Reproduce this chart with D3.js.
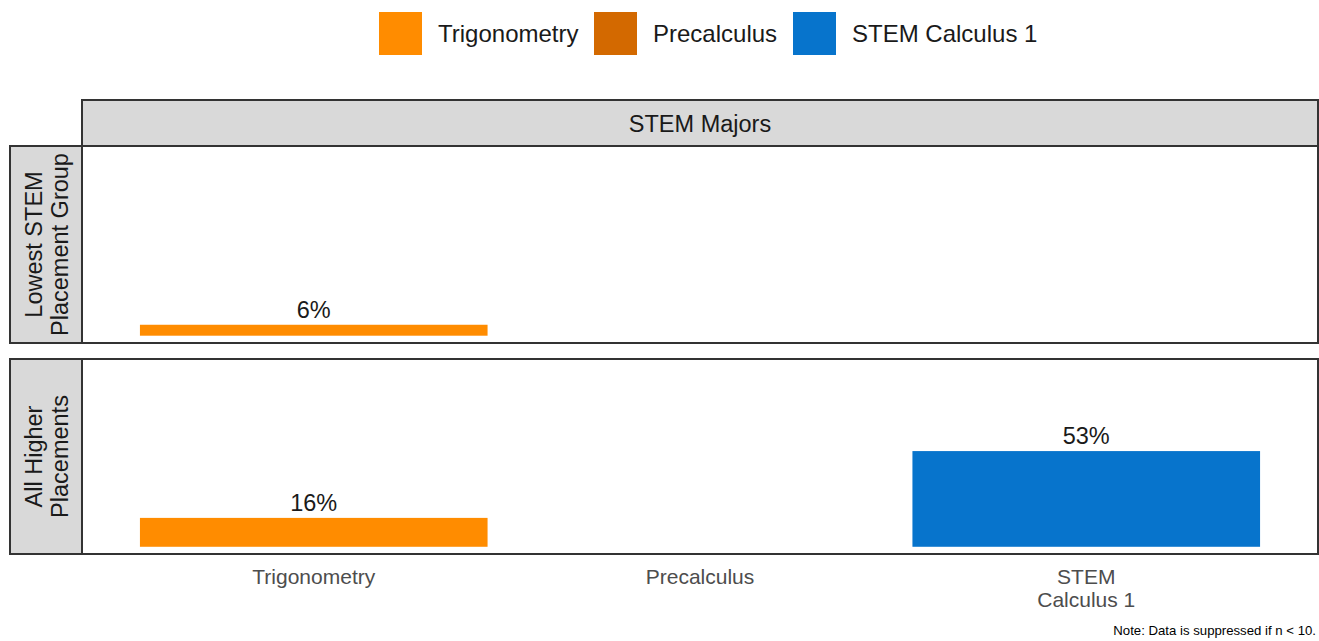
<!DOCTYPE html>
<html>
  <head>
    <meta charset="utf-8" />
    <script src="https://d3js.org/d3.v7.min.js"></script>
    <title>STEM Majors placement</title>
    <style>
      body { margin: 0; background: #fff; }
      text { font-family: "Liberation Sans", Arial, sans-serif; }
    </style>
  </head>
  <body>
    <svg id="chart" width="1319" height="641"></svg>
    <script>
      // data
      var courses = ["Trigonometry", "Precalculus", "STEM Calculus 1"];
      var courseLabels = [["Trigonometry"], ["Precalculus"], ["STEM", "Calculus 1"]];
      var courseColors = ["#ff8c00", "#d36900", "#0774cc"];
      var groups = ["Lowest STEM Placement Group", "All Higher Placements"];
      var groupLabels = [["Lowest STEM", "Placement Group"], ["All Higher", "Placements"]];
      var lowestValues = [6, null, null];
      var higherValues = [16, null, 53];
      var facetTitle = "STEM Majors";
      var note = "Note: Data is suppressed if n < 10.";

      var svg = d3.select("#chart");
      var panelLeft = 82, panelRight = 1318;
      var panels = [{top: 146, bottom: 343, values: lowestValues},
                    {top: 359, bottom: 554, values: higherValues}];

      // discrete x: positions 1..3 with 0.6 expansion each side
      var x = d3.scaleLinear().domain([0.4, 3.6]).range([panelLeft, panelRight]);
      var barW = x(1.45) - x(0.55);

      // legend
      var legendX = [379, 594, 793];
      var legend = svg.selectAll(".legend").data(courses).enter().append("g")
        .attr("transform", function(d, i) { return "translate(" + legendX[i] + ",12)"; });
      legend.append("rect").attr("width", 43).attr("height", 43)
        .attr("fill", function(d, i) { return courseColors[i]; });
      legend.append("text").attr("x", 59).attr("y", 22).attr("dy", "0.35em")
        .attr("font-size", 24).attr("fill", "#1a1a1a").text(function(d) { return d; });

      // top strip
      svg.append("rect").attr("x", panelLeft).attr("y", 100)
        .attr("width", panelRight - panelLeft).attr("height", 46)
        .attr("fill", "#d9d9d9").attr("stroke", "#333").attr("stroke-width", 2);
      svg.append("text").attr("x", (panelLeft + panelRight) / 2).attr("y", 124)
        .attr("dy", "0.35em").attr("text-anchor", "middle").attr("font-size", 23.5)
        .attr("fill", "#1a1a1a").text(facetTitle);

      panels.forEach(function(p, pi) {
        var y = d3.scaleLinear().domain([-4, 104]).range([p.bottom, p.top]);

        svg.append("rect").attr("x", panelLeft).attr("y", p.top)
          .attr("width", panelRight - panelLeft).attr("height", p.bottom - p.top)
          .attr("fill", "#fff");

        var data = courses.map(function(c, i) { return {i: i, v: p.values[i]}; })
          .filter(function(d) { return d.v != null; });

        svg.selectAll(".bar" + pi).data(data).enter().append("rect")
          .attr("x", function(d) { return x(d.i + 1) - barW / 2; })
          .attr("y", function(d) { return y(d.v); })
          .attr("width", barW)
          .attr("height", function(d) { return y(0) - y(d.v); })
          .attr("fill", function(d) { return courseColors[d.i]; });

        svg.selectAll(".lab" + pi).data(data).enter().append("text")
          .attr("x", function(d) { return x(d.i + 1); })
          .attr("y", function(d) { return y(d.v) - 7; })
          .attr("text-anchor", "middle").attr("font-size", 23.5).attr("fill", "#1a1a1a")
          .text(function(d) { return d.v + "%"; });

        svg.append("rect").attr("x", panelLeft).attr("y", p.top)
          .attr("width", panelRight - panelLeft).attr("height", p.bottom - p.top)
          .attr("fill", "none").attr("stroke", "#333").attr("stroke-width", 2);

        // left strip
        svg.append("rect").attr("x", 10).attr("y", p.top)
          .attr("width", panelLeft - 10).attr("height", p.bottom - p.top)
          .attr("fill", "#d9d9d9").attr("stroke", "#333").attr("stroke-width", 2);
        var cy = (p.top + p.bottom) / 2;
        var t = svg.append("text").attr("transform", "translate(46," + cy + ") rotate(-90)")
          .attr("text-anchor", "middle").attr("font-size", 23.5).attr("fill", "#1a1a1a");
        groupLabels[pi].forEach(function(line, li) {
          t.append("tspan").attr("x", 0).attr("y", -4 + li * 26).text(line);
        });
      });

      // x axis labels
      var xl = svg.selectAll(".xlab").data(courseLabels).enter().append("text")
        .attr("text-anchor", "middle").attr("font-size", 21).attr("fill", "#4d4d4d");
      xl.each(function(lines, i) {
        var el = d3.select(this);
        lines.forEach(function(line, li) {
          el.append("tspan").attr("x", x(i + 1)).attr("y", 584 + li * 23).text(line);
        });
      });

      svg.append("text").attr("x", 1316).attr("y", 635).attr("text-anchor", "end")
        .attr("font-size", 13.2).attr("fill", "#000").text(note);
    </script>
  </body>
</html>
